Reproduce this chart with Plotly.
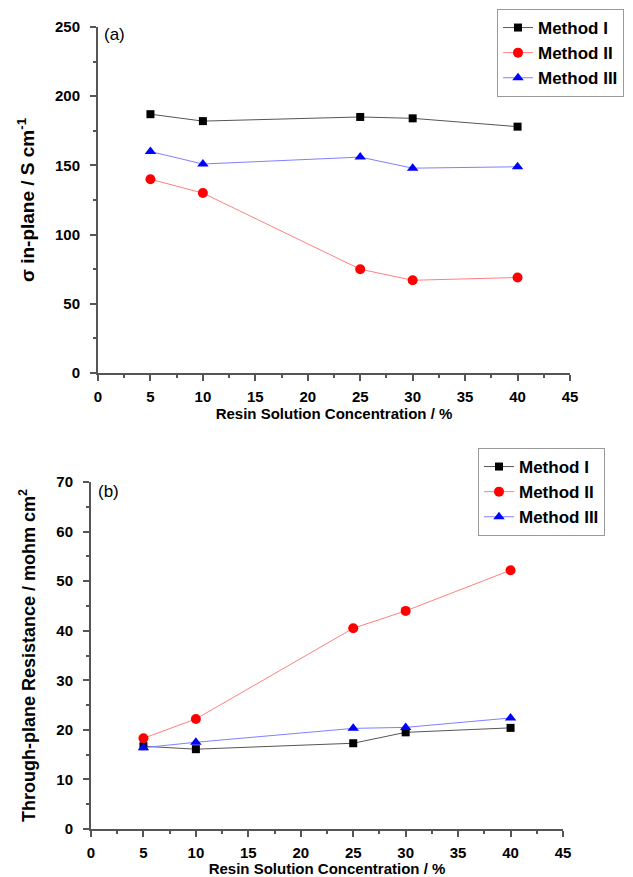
import plotly.graph_objects as go

conc = [5, 10, 25, 30, 40]

# Panel (a): in-plane conductivity / S cm^-1
sigma_m1 = [187, 182, 185, 184, 178]
sigma_m2 = [140, 130, 75, 67, 69]
sigma_m3 = [160, 151, 156, 148, 149]

# Panel (b): through-plane resistance / mohm cm^2
res_m1 = [16.7, 16.1, 17.3, 19.5, 20.4]
res_m2 = [18.3, 22.2, 40.5, 44.0, 52.2]
res_m3 = [16.4, 17.5, 20.3, 20.5, 22.4]

names = ["Method I", "Method II", "Method III"]
x_ticks = [0, 5, 10, 15, 20, 25, 30, 35, 40, 45]
ya_ticks = [0, 50, 100, 150, 200, 250]
yb_ticks = [0, 10, 20, 30, 40, 50, 60, 70]

styles = [
    dict(line=dict(color="#555555", width=1), marker=dict(symbol="square", size=8, color="black")),
    dict(line=dict(color="#ff8080", width=1), marker=dict(symbol="circle", size=10, color="#ff0000")),
    dict(line=dict(color="#8080ff", width=1), marker=dict(symbol="triangle-up", size=10, color="#0000ff")),
]

fig = go.Figure()
for nm, vals, st in zip(names, [sigma_m1, sigma_m2, sigma_m3], styles):
    fig.add_trace(go.Scatter(x=conc, y=vals, name=nm, mode="lines+markers",
                             xaxis="x", yaxis="y", legend="legend", **st))
for nm, vals, st in zip(names, [res_m1, res_m2, res_m3], styles):
    fig.add_trace(go.Scatter(x=conc, y=vals, name=nm, mode="lines+markers",
                             xaxis="x2", yaxis="y2", legend="legend2", **st))

# page has an 8px body margin: figure is 625x869 placed at (8, 8)
OFF = 8
W, H = 633 - OFF, 877 - OFF

def fx(px):
    return (px - OFF) / W

def fy(py):
    return 1 - (py - OFF) / H

FAM = "Liberation Sans, Arial"
tickfont = dict(family=FAM, size=15, color="black", weight="bold")
xtitlefont = dict(family=FAM, size=15, color="black", weight="bold")
axcol = "#555555"

def xaxis(domain, anchor):
    return dict(domain=domain, anchor=anchor, range=[0, 45], tickvals=x_ticks,
                showline=True, linecolor=axcol, linewidth=2, ticks="outside",
                ticklen=6, tickwidth=1.5, tickcolor=axcol, showgrid=False, zeroline=False,
                minor=dict(dtick=2.5, ticks="outside", ticklen=3, tickcolor=axcol, showgrid=False),
                tickfont=tickfont, automargin=False, ticklabelstandoff=3,
                title=dict(text="Resin Solution Concentration / %", font=xtitlefont, standoff=4))

def yaxis(domain, anchor, rng, tv, minor_dtick, title, standoff, tsize):
    return dict(domain=domain, anchor=anchor, range=rng, tickvals=tv,
                showline=True, linecolor=axcol, linewidth=2, ticks="outside",
                ticklen=6, tickwidth=1.5, tickcolor=axcol, showgrid=False, zeroline=False,
                minor=dict(dtick=minor_dtick, ticks="outside", ticklen=3, tickcolor=axcol, showgrid=False),
                tickfont=tickfont, automargin=False, ticklabelstandoff=7,
                title=dict(text=title, standoff=standoff,
                           font=dict(family=FAM, size=tsize, color="black", weight="bold")))

legend_common = dict(font=dict(family=FAM, size=17, color="black", weight="bold"),
                     bordercolor="#999999", borderwidth=1, bgcolor="white",
                     xanchor="left", yanchor="top", tracegroupgap=0, itemwidth=30)

fig.update_layout(
    width=W, height=H,
    margin=dict(l=0, r=0, t=0, b=0),
    paper_bgcolor="white", plot_bgcolor="white",
    xaxis=xaxis([fx(98), fx(570)], "y"),
    yaxis=yaxis([fy(373), fy(27)], "x", [0, 250], ya_ticks, 25,
                "σ in-plane / S cm<sup>-1</sup>", 15, 19),
    xaxis2=xaxis([fx(91), fx(563)], "y2"),
    yaxis2=yaxis([fy(829), fy(482)], "x2", [0, 70], yb_ticks, 5,
                 "Through-plane Resistance / mohm cm<sup>2</sup>", 16, 18),
    legend=dict(x=fx(497), y=fy(9), **legend_common),
    legend2=dict(x=fx(478), y=fy(448), **legend_common),
    showlegend=True,
    annotations=[
        dict(text="(a)", x=fx(102), y=fy(34), xref="paper", yref="paper",
             xanchor="left", yanchor="middle", showarrow=False,
             font=dict(family=FAM, size=17, color="black")),
        dict(text="(b)", x=fx(96), y=fy(491), xref="paper", yref="paper",
             xanchor="left", yanchor="middle", showarrow=False,
             font=dict(family=FAM, size=17, color="black")),
    ],
)

fig.write_html("out.html")
